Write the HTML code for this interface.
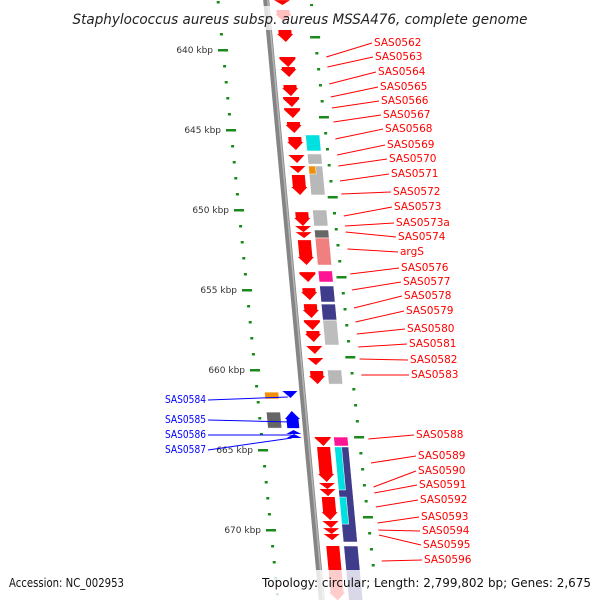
<!DOCTYPE html>
<html><head><meta charset="utf-8"><style>
html,body{margin:0;padding:0;background:#fff;}
svg{display:block;font-family:"DejaVu Sans","Liberation Sans",sans-serif;}
</style></head><body>
<svg id="map" width="600" height="600" viewBox="0 0 600 600" xmlns="http://www.w3.org/2000/svg">
<line x1="266" y1="-2" x2="322" y2="602" stroke="#858585" stroke-width="6"/>
<line x1="267.5" y1="-2" x2="323.5" y2="602" stroke="#b5b5b5" stroke-width="1.5"/>
<g id="ticks"></g>
<g id="genes"></g>
<g id="labels"></g>
<rect x="0" y="6" width="600" height="24" fill="#fff" opacity="0.75"/>
<rect x="0" y="570" width="600" height="30" fill="#fff" opacity="0.8"/>
<text x="300" y="24" text-anchor="middle" font-size="14" font-style="italic" fill="#222" textLength="455" lengthAdjust="spacingAndGlyphs">Staphylococcus aureus subsp. aureus MSSA476, complete genome</text>
<text x="9" y="587" font-size="12.5" fill="#111" textLength="115" lengthAdjust="spacingAndGlyphs">Accession: NC_002953</text>
<text x="591" y="587" text-anchor="end" font-size="12.5" fill="#111" textLength="329" lengthAdjust="spacingAndGlyphs">Topology: circular; Length: 2,799,802 bp; Genes: 2,675</text>
</svg>
<script>
// data (kbp positions)
const majorTicks = [640,645,650,655,660,665,670];
const majorTickLabels = ["640 kbp","645 kbp","650 kbp","655 kbp","660 kbp","665 kbp","670 kbp"];
const fwdStarts = [636.88,637.5,638.75,640.44,641.06,642.19,642.94,643.63,644.5,645.44,646.56,647.25,647.81,650.13,651,651.38,651.88,653.88,654.88,655.88,656.88,657.56,658.5,659.25,660.06,664.19,664.81,667.06,667.44,667.94,669.44,669.88,670.25,671];
const fwdEnds   = [637.19,638.25,639.5,641.06,641.69,642.88,643.56,644.25,645.19,646.25,647.06,647.69,649.06,651,651.38,651.75,653.44,654.5,655.63,656.75,657.5,658.25,659,659.69,660.88,664.75,667,667.44,667.88,669.38,669.88,670.25,670.63,674.4];
const revStarts = [661.31,662.56,663.75,664.0];
const revEnds   = [661.75,663.63,664.0,664.25];
const cogStarts = [645.31,646.5,647.25,650.0,651.25,651.75,653.81,654.75,655.88,656.88,660.0,664.19,664.81,671];
const cogEnds   = [646.31,647.13,649.06,651.0,651.75,653.44,654.5,655.75,656.88,658.44,660.88,664.75,670.75,674.4];
const cogColors = ["#00e0e0","#b8b8b8","#b8b8b8","#b8b8b8","#666666","#f08080","#ff1493","#3f3c8c","#3f3c8c","#bdbdbd","#b8b8b8","#ff1493","#3f3c8c","#3f3c8c"];
const cogHalfStarts = [647.25,664.81,667.94];
const cogHalfEnds   = [647.75,667.5,669.63];
const cogHalfColors = ["#f0900a","#00e0e0","#00e0e0"];
const revCogStarts = [661.38,662.63];
const revCogEnds   = [661.81,663.63];
const revCogColors = ["#f0900a","#666666"];
const rightLabels = ["SAS0562","SAS0563","SAS0564","SAS0565","SAS0566","SAS0567","SAS0568","SAS0569","SAS0570","SAS0571","SAS0572","SAS0573","SAS0573a","SAS0574","argS","SAS0576","SAS0577","SAS0578","SAS0579","SAS0580","SAS0581","SAS0582","SAS0583","SAS0588","SAS0589","SAS0590","SAS0591","SAS0592","SAS0593","SAS0594","SAS0595","SAS0596"];
const rightLabelY = [42,56,71,86,100,114,128,144,158,173,191,206,222,236,251,267,281,295,310,328,343,359,374,434,455,470,484,499,516,530,544,559];
const rightLabelX = [374,375,378,380,381,383,385,387,389,391,393,394,396,398,400,401,403,404,406,407,409,410,411,416,418,418,419,420,421,422,423,424];
const rightAnchorY = [57,67,84,97,108,122,139,155,166,181,194,216,226,232,249,274,290,308,322,334,347,359,375,439,463,487,493,507,523,530,535,561];
const leftLabels = ["SAS0584","SAS0585","SAS0586","SAS0587"];
const leftLabelY = [399,419,434,449];
const leftAnchorY = [397,422,435,438];

const NS="http://www.w3.org/2000/svg";
const Y = k => 50 + (k-640)*16;
const BX = y => 266 + 0.093*y;
const RX = y => 315 + 0.11*(y-36);
const LX = y => 223 + 0.1*(y-50);
function mk(tag, attrs, parent){const e=document.createElementNS(NS,tag);for(const a in attrs)e.setAttribute(a,attrs[a]);parent.appendChild(e);return e;}
const gT=document.getElementById('ticks'), gG=document.getElementById('genes'), gL=document.getElementById('labels');

for(let k=636;k<=674;k++){
  const major = k%5===0;
  const yl=Y(k), yr=Y(k)-13;
  if(yl>-5&&yl<605){
    const r=mk('rect',{x:LX(yl)-(major?5:1.5),y:yl-1,width:major?10:3,height:2.5,fill:'#1a8a1a'},gT);
    
    
  }
  if(yr>-5&&yr<605){
    const r=mk('rect',{x:RX(yr)-(major?5:1.5),y:yr-1,width:major?10:3,height:2.5,fill:'#1a8a1a'},gT);
    
    
  }
}
majorTicks.forEach((k,i)=>{
  const y=Y(k);
  const t=mk('text',{x:LX(y)-10,y:y+3,'text-anchor':'end','font-size':'9',fill:'#333'},gT);
  t.textContent=majorTickLabels[i];
  
  
});

function arrow(y0,y1,a,b,color,down,name){
  const len=y1-y0, h=Math.min(8,len);
  const x=y=>BX(y);
  const s = len>h+2 ? 1.5 : 0;
  let pts;
  if(down){
    const yb=y1-h;
    pts=[[x(y0)+a+s,y0],[x(y0)+b-s,y0],[x(yb)+b-s,yb],[x(yb)+b,yb],[x(y1)+(a+b)/2,y1],[x(yb)+a,yb],[x(yb)+a+s,yb]];
  } else {
    const yt=y0+h;
    pts=[[x(y0)+(a+b)/2,y0],[x(yt)+b,yt],[x(yt)+b-s,yt],[x(y1)+b-s,y1],[x(y1)+a+s,y1],[x(yt)+a+s,yt],[x(yt)+a,yt]];
  }
  const p=mk('polygon',{points:pts.map(q=>q.join(',')).join(' '),fill:color},gG);
  
  
}
function box(y0,y1,a,b,color,name){
  const pts=[[BX(y0)+a,y0],[BX(y0)+b,y0],[BX(y1)+b,y1],[BX(y1)+a,y1]];
  const p=mk('polygon',{points:pts.map(q=>q.join(',')).join(' '),fill:color,stroke:'#fff','stroke-width':'0.5'},gG);
  
  
}
fwdStarts.forEach((s,i)=>arrow(Y(s),Y(fwdEnds[i]),8,24,'#ff0000',true,'forward-gene'));
revStarts.forEach((s,i)=>arrow(Y(s),Y(revEnds[i]),-20,-5,'#0000ff',i===0?true:false,'reverse-gene'));
cogStarts.forEach((s,i)=>box(Y(s),Y(cogEnds[i]),27,41,cogColors[i],'cog-box'));
cogHalfStarts.forEach((s,i)=>box(Y(s),Y(cogHalfEnds[i]),27,34,cogHalfColors[i],'cog-box'));
revCogStarts.forEach((s,i)=>box(Y(s),Y(revCogEnds[i]),-38,-24,revCogColors[i],'reverse-cog-box'));

rightLabels.forEach((n,i)=>{
  const ay=rightAnchorY[i], ax=RX(ay)+9;
  const l=mk('line',{x1:ax,y1:ay,x2:rightLabelX[i]-2,y2:rightLabelY[i]+1,stroke:'#ff0000','stroke-width':'1'},gL);
  
  
  const t=mk('text',{x:rightLabelX[i],y:rightLabelY[i]+4,'font-size':'10.5',fill:'#ff0000'},gL);
  t.textContent=n;
  
  
});
leftLabels.forEach((n,i)=>{
  const ay=leftAnchorY[i], ax=LX(ay)+30;
  const l=mk('line',{x1:ax,y1:ay,x2:208,y2:leftLabelY[i]+1,stroke:'#0000ff','stroke-width':'1'},gL);
  
  
  const t=mk('text',{x:206,y:leftLabelY[i]+4,'text-anchor':'end','font-size':'10.5',fill:'#0000ff',textLength:'41',lengthAdjust:'spacingAndGlyphs'},gL);
  t.textContent=n;
  
  
});
</script>
</body></html>
